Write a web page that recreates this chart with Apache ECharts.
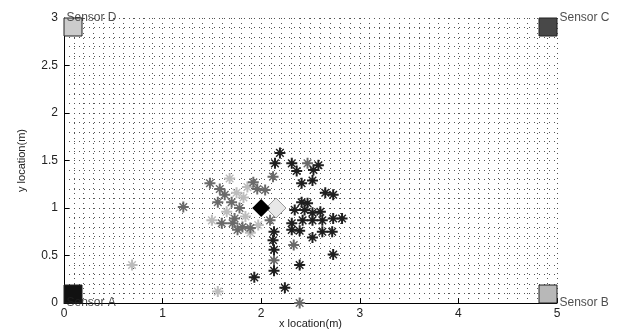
<!DOCTYPE html>
<html><head><meta charset="utf-8">
<script src="https://cdn.jsdelivr.net/npm/echarts@6/dist/echarts.min.js"></script>
<style>html,body{margin:0;padding:0;background:#fff}#c{width:635px;height:334px}</style>
</head><body><div id="c"></div>
<script>
const xTicks = [0, 1, 2, 3, 4, 5];
const yTicks = [0, 0.5, 1, 1.5, 2, 2.5, 3];
const sensorNames = ['Sensor A', 'Sensor B', 'Sensor C', 'Sensor D'];
const sensorPos = [[0, 0], [5, 0], [5, 3], [0, 3]];
const sensorColors = ['#111111', '#b8b8b8', '#484848', '#cccccc'];
const trueSource = [[2.0, 1.0]];
const estSource = [[2.15, 1.0]];
const darkStars = [
  [2.19,1.58],[2.14,1.47],[2.31,1.47],[2.58,1.45],[2.36,1.39],[2.53,1.40],[2.52,1.29],[2.41,1.26],
  [2.65,1.16],[2.73,1.14],[2.41,1.06],[2.47,1.05],[2.34,0.98],[2.44,0.98],[2.52,0.95],[2.60,0.96],
  [2.42,0.87],[2.52,0.87],[2.62,0.87],[2.73,0.89],[2.82,0.89],[2.31,0.84],[2.31,0.77],[2.39,0.76],
  [2.62,0.75],[2.72,0.75],[2.52,0.69],[2.12,0.66],[2.13,0.75],[2.13,0.56],[2.13,0.34],[2.73,0.51],
  [2.39,0.40],[1.93,0.27],[2.24,0.16]
];
const midStars = [
  [2.47,1.47],[2.12,1.33],[1.92,1.27],[1.96,1.20],[2.04,1.19],[1.48,1.26],[1.58,1.20],[1.63,1.14],
  [1.56,1.06],[1.21,1.01],[1.70,1.06],[1.78,1.00],[1.73,0.89],[1.60,0.84],[1.71,0.84],[1.81,0.80],
  [1.89,0.79],[2.09,0.87],[2.33,0.61],[2.13,0.45],[2.39,0.00],[1.76,0.77]
];
const lightStars = [
  [1.68,1.31],[1.75,1.16],[1.86,1.22],[1.82,1.11],[1.65,0.96],[1.84,0.91],[1.50,0.87],[1.89,0.74],
  [1.56,0.12],[0.69,0.40],[1.97,0.82]
];

const star = 'path://M-0.9,-5L0.9,-5L0.9,-0.9L5,-0.9L5,0.9L0.9,0.9L0.9,5L-0.9,5L-0.9,0.9L-5,0.9L-5,-0.9L-0.9,-0.9Z' +
  'M-3.9,-3.0L-3.0,-3.9L3.9,3.0L3.0,3.9ZM3.0,-3.9L3.9,-3.0L-3.0,3.9L-3.9,3.0Z';
const font = 'Liberation Sans, Arial, sans-serif';
const dotted = {color: '#555', width: 1, type: [1, 4]};

function starSeries(data, color) {
  return {type: 'scatter', data: data, symbol: star, symbolSize: 11,
    itemStyle: {color: color, opacity: 1}, silent: true, z: 3};
}

const chart = echarts.init(document.getElementById('c'), null, {renderer: 'canvas'});
chart.setOption({
  animation: false,
  grid: {left: 64, right: 78, top: 18, bottom: 31, containLabel: false, outerBoundsMode: 'none'},
  xAxis: {
    type: 'value', min: xTicks[0], max: xTicks[xTicks.length - 1], interval: 1,
    axisLine: {show: true, onZero: false, lineStyle: {color: '#000', width: 1}},
    axisTick: {show: true, inside: true, length: 5, lineStyle: {color: '#000'}},
    axisLabel: {color: '#222', fontSize: 12, fontFamily: font, margin: 5},
    splitLine: {show: true, lineStyle: dotted},
    minorTick: {show: false, splitNumber: 10},
    minorSplitLine: {show: true, lineStyle: dotted},
    name: 'x location(m)', nameLocation: 'middle', nameGap: 15, nameMoveOverlap: false,
    nameTextStyle: {color: '#222', fontSize: 11, fontFamily: font}
  },
  yAxis: {
    type: 'value', min: yTicks[0], max: yTicks[yTicks.length - 1], interval: 0.5,
    axisLine: {show: true, onZero: false, lineStyle: {color: '#000', width: 1}},
    axisTick: {show: true, inside: true, length: 5, lineStyle: {color: '#000'}},
    axisLabel: {color: '#222', fontSize: 12, fontFamily: font, margin: 6},
    splitLine: {show: true, lineStyle: dotted},
    minorTick: {show: false, splitNumber: 5},
    minorSplitLine: {show: true, lineStyle: dotted},
    name: 'y location(m)', nameLocation: 'middle', nameGap: 37, nameRotate: 90, nameMoveOverlap: false,
    nameTextStyle: {color: '#222', fontSize: 11, fontFamily: font}
  },
  series: [
    starSeries(lightStars, '#bcbcbc'),
    starSeries(midStars, '#6a6a6a'),
    starSeries(darkStars, '#1e1e1e'),
    {type: 'scatter', data: estSource, symbol: 'diamond', symbolSize: 20,
      itemStyle: {color: '#e8e8e8', borderColor: '#999', borderWidth: 1, opacity: 1}, z: 4},
    {type: 'scatter', data: trueSource, symbol: 'diamond', symbolSize: 18,
      itemStyle: {color: '#000', opacity: 1}, z: 5},
    {type: 'scatter', symbol: 'rect', symbolSize: 18, z: 6,
      data: sensorPos.map((p, i) => ({value: p,
        symbolOffset: [p[0] === 0 ? 9 : -9, p[1] === 0 ? -9 : 9],
        itemStyle: {color: sensorColors[i], borderColor: '#222', borderWidth: 1, opacity: 1}}))},
    {type: 'scatter', symbol: 'circle', symbolSize: 1, z: 7,
      itemStyle: {color: 'rgba(0,0,0,0)'},
      data: sensorPos.map((p, i) => ({value: p, name: sensorNames[i]})),
      label: {show: true, position: 'right', distance: 2, formatter: '{b}',
        color: '#222', fontSize: 12, fontFamily: font}}
  ]
});
</script></body></html>
